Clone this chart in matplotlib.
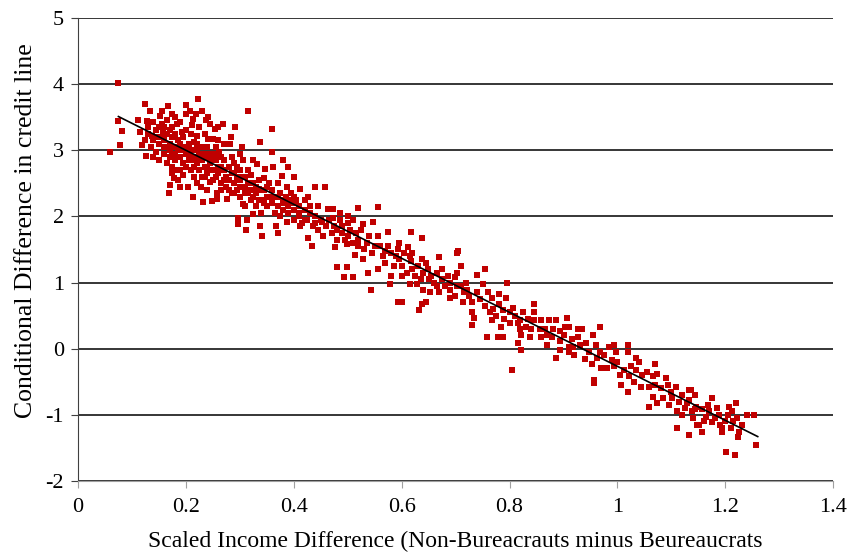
import matplotlib.pyplot as plt
import numpy as np

plt.rcParams['font.family'] = ['Liberation Serif', 'DejaVu Serif']
plt.rcParams['axes.unicode_minus'] = False

# scatter points, grouped by x band
income_diff = [
	# 0.05 - 0.12
	0.059, 0.075, 0.074, 0.081, 0.078, 0.115, 0.118, 0.124, 0.128, 0.127, 0.112,
	# 0.12 - 0.20
	0.133, 0.167, 0.201, 0.174, 0.152, 0.137, 0.158, 0.183, 0.193, 0.174, 0.170, 0.169, 0.204, 0.207,
	0.13, 0.135, 0.14, 0.14, 0.145, 0.145, 0.15, 0.15, 0.155, 0.155, 0.16, 0.16, 0.16, 0.165, 0.165,
	0.165, 0.17, 0.17, 0.17, 0.175, 0.175, 0.175, 0.18, 0.18, 0.18, 0.18, 0.185, 0.185, 0.185, 0.19,
	0.19, 0.19, 0.19, 0.195, 0.195, 0.195, 0.20, 0.20, 0.20, 0.20, 0.20, 0.14, 0.125, 0.13, 0.155,
	0.19, 0.178,
	# 0.20 - 0.27
	0.222, 0.213, 0.241, 0.220, 0.241, 0.254, 0.213, 0.232, 0.248, 0.257, 0.269, 0.259, 0.250, 0.257, 0.244,
	0.205, 0.205, 0.21, 0.21, 0.21, 0.215, 0.215, 0.215, 0.22, 0.22, 0.22, 0.225, 0.225, 0.225, 0.23,
	0.23, 0.23, 0.23, 0.235, 0.235, 0.235, 0.24, 0.24, 0.24, 0.24, 0.245, 0.245, 0.25, 0.25, 0.25,
	0.255, 0.255, 0.26, 0.26, 0.26, 0.265, 0.265, 0.265, 0.27, 0.27, 0.27, 0.212, 0.228, 0.218, 0.262,
	0.238,
	# 0.27 - 0.35
	0.315, 0.291, 0.281, 0.304, 0.276, 0.306, 0.324, 0.296, 0.296, 0.313, 0.337, 0.341, 0.337, 0.331, 0.346,
	0.275, 0.275, 0.28, 0.28, 0.285, 0.285, 0.29, 0.29, 0.29, 0.295, 0.295, 0.30, 0.30, 0.30, 0.305,
	0.305, 0.31, 0.31, 0.31, 0.315, 0.315, 0.32, 0.32, 0.32, 0.325, 0.325, 0.33, 0.33, 0.335, 0.335,
	0.34, 0.34, 0.345, 0.345, 0.35, 0.35, 0.283, 0.30, 0.312,
	# 0.35 - 0.45
	0.359, 0.359, 0.378, 0.361, 0.387, 0.411, 0.439, 0.426, 0.368, 0.387, 0.411, 0.433, 0.426,
	0.355, 0.36, 0.36, 0.365, 0.365, 0.37, 0.37, 0.375, 0.375, 0.38, 0.38, 0.385, 0.39, 0.39, 0.395,
	0.40, 0.40, 0.40, 0.405, 0.41, 0.41, 0.415, 0.42, 0.42, 0.425, 0.43, 0.435, 0.44, 0.445, 0.445,
	0.45, 0.37, 0.39, 0.40, 0.38,
	# 0.45 - 0.55
	0.457, 0.463, 0.472, 0.481, 0.452, 0.519, 0.472, 0.546, 0.528, 0.476, 0.498, 0.513, 0.528, 0.480, 0.498,
	0.494, 0.509, 0.537, 0.544,
	0.455, 0.46, 0.465, 0.47, 0.475, 0.48, 0.485, 0.49, 0.49, 0.495, 0.50, 0.50, 0.505, 0.51, 0.515,
	0.52, 0.52, 0.525, 0.53, 0.535, 0.54, 0.545, 0.55, 0.50, 0.485, 0.51,
	# 0.55 - 0.65
	0.556, 0.556, 0.574, 0.618, 0.637, 0.556, 0.578, 0.569, 0.593, 0.611, 0.596, 0.618, 0.637, 0.648, 0.615,
	0.628, 0.639, 0.593, 0.600, 0.637, 0.633, 0.646,
	0.56, 0.565, 0.57, 0.575, 0.58, 0.585, 0.59, 0.595, 0.60, 0.605, 0.61, 0.615, 0.62, 0.625, 0.63,
	0.635, 0.64, 0.645, 0.65, 0.58, 0.60, 0.62,
	# 0.65 - 0.75
	0.670, 0.704, 0.674, 0.652, 0.665, 0.670, 0.689, 0.702, 0.698, 0.702, 0.702, 0.739, 0.754, 0.750, 0.722,
	0.689, 0.698, 0.713, 0.731, 0.730, 0.735, 0.730,
	0.655, 0.66, 0.665, 0.675, 0.68, 0.685, 0.69, 0.71, 0.715, 0.72, 0.725, 0.74, 0.745, 0.71,
	# 0.75 - 0.85
	0.796, 0.767, 0.781, 0.794, 0.763, 0.767, 0.787, 0.785, 0.806, 0.819, 0.815, 0.759, 0.778, 0.787, 0.819,
	0.831, 0.822, 0.815, 0.822, 0.804, 0.846, 0.846, 0.846,
	0.755, 0.76, 0.77, 0.775, 0.78, 0.79, 0.80, 0.81, 0.825, 0.835, 0.84, 0.80,
	# 0.85 - 0.95
	0.859, 0.874, 0.887, 0.906, 0.902, 0.893, 0.856, 0.837, 0.859, 0.878, 0.893, 0.911, 0.893, 0.887, 0.926,
	0.926, 0.911, 0.935, 0.942, 0.917, 0.911, 0.948,
	0.865, 0.87, 0.88, 0.90, 0.915, 0.92, 0.93, 0.94, 0.87,
	# 0.95 - 1.05
	0.967, 0.954, 0.967, 0.963, 0.952, 0.957, 0.957, 0.985, 0.994, 0.998, 1.019, 1.019, 1.035, 0.989, 0.994,
	1.013, 1.022, 1.007, 1.019, 1.026, 1.035, 1.044,
	0.975, 0.98, 1.00, 1.005, 1.03, 1.04, 1.045, 0.96, 0.97,
	# 1.05 - 1.15
	1.054, 1.059, 1.065, 1.069, 1.074, 1.059, 1.074, 1.065, 1.093, 1.109, 1.100, 1.120, 1.102, 1.133, 1.143,
	1.128, 1.143, 1.111, 1.111, 1.148, 1.137, 1.146, 1.133, 1.139, 1.133,
	1.08, 1.085, 1.09, 1.095, 1.115, 1.12, 1.125, 1.14, 1.07,
	# 1.15 - 1.26
	1.176, 1.167, 1.157, 1.220, 1.207, 1.213, 1.189, 1.164, 1.176, 1.152, 1.156, 1.194, 1.194, 1.211, 1.222,
	1.226, 1.224, 1.230, 1.241, 1.254, 1.257, 1.202, 1.217,
	1.17, 1.18, 1.185, 1.20, 1.205, 1.215, 1.16, 1.19,
	# extra points in the dense core
	0.145, 0.15, 0.16, 0.165, 0.17, 0.175, 0.18, 0.185, 0.19, 0.195, 0.205, 0.21, 0.215, 0.22, 0.225,
	0.23, 0.235, 0.24, 0.245, 0.25, 0.255, 0.26, 0.265, 0.27,
	0.28, 0.285, 0.29, 0.295, 0.30, 0.305, 0.31, 0.315, 0.32, 0.325, 0.33, 0.335, 0.34, 0.345, 0.35,
	0.36, 0.37, 0.38, 0.39, 0.40, 0.41, 0.42, 0.43, 0.44,
]
credit_diff = [
	2.97, 4.01, 3.44, 3.29, 3.08, 3.27, 3.08, 3.70, 3.44, 2.91, 3.45,
	3.59, 3.67, 3.68, 3.55, 3.52, 3.21, 3.29, 3.39, 3.27, 2.74, 2.48, 2.36, 2.44, 3.59,
	3.35, 3.05, 3.15, 3.42, 2.98, 3.30, 3.10, 2.85, 3.20, 3.40, 3.05, 2.95, 3.15, 2.80, 3.25,
	3.45, 3.00, 3.10, 2.90, 3.20, 2.65, 3.35, 3.05, 2.85, 2.95, 3.50, 3.15, 2.70, 2.55, 3.00,
	2.90, 3.10, 3.42, 2.80, 2.62, 3.20, 3.05, 2.95, 2.75, 3.30, 3.55, 2.90, 3.15, 3.25, 3.60,
	2.45, 2.58,
	3.77, 3.47, 3.50, 3.21, 3.17, 3.32, 2.29, 2.21, 2.23, 2.36, 3.39, 3.35, 3.17, 2.26, 2.52,
	3.10, 2.85, 3.00, 2.70, 3.25, 2.90, 3.12, 2.60, 2.80, 3.00, 2.50, 2.95, 3.35, 2.70, 2.85,
	3.05, 2.60, 3.60, 2.75, 2.95, 3.25, 2.90, 2.65, 3.05, 2.40, 2.80, 3.40, 2.70, 2.95, 2.55,
	2.85, 3.05, 2.65, 2.75, 3.15, 2.90, 2.50, 2.40, 2.70, 2.85, 3.10, 3.38, 2.45, 3.55, 2.98,
	3.45,
	3.59, 3.35, 3.09, 3.05, 2.26, 2.18, 2.03, 1.98, 1.88, 1.95, 1.85, 1.70, 3.12, 2.79, 2.71,
	2.60, 2.45, 2.75, 2.55, 2.90, 2.35, 2.65, 2.50, 2.80, 2.40, 2.60, 2.70, 2.30, 2.55, 2.85,
	2.45, 2.60, 2.35, 2.15, 2.70, 2.50, 2.40, 2.25, 2.62, 2.85, 2.50, 2.35, 2.15, 2.55, 2.42,
	2.25, 2.05, 2.40, 2.58, 2.30, 2.15, 3.20, 2.95, 1.80,
	3.32, 2.98, 2.61, 2.74, 2.45, 2.41, 2.45, 2.29, 1.85, 1.92, 1.85, 1.55, 1.68,
	2.50, 2.20, 2.40, 2.05, 2.30, 2.50, 2.15, 2.35, 2.00, 2.25, 2.10, 2.30, 2.15, 2.05, 2.35,
	2.20, 1.95, 2.10, 2.25, 2.00, 2.15, 1.90, 2.10, 2.25, 1.95, 2.05, 1.85, 2.00, 2.15, 1.80,
	1.95, 1.75, 2.75, 2.60, 2.85,
	2.45, 2.11, 1.98, 1.80, 1.91, 2.12, 2.11, 1.91, 1.88, 1.53, 1.58, 1.41, 1.35, 1.24, 1.23,
	1.08, 1.09, 1.15, 0.89,
	1.70, 1.85, 1.95, 1.75, 1.85, 1.65, 1.95, 1.75, 1.85, 1.65, 1.90, 1.70, 1.80, 1.60, 1.75,
	1.55, 1.65, 1.80, 1.50, 1.60, 1.70, 1.45, 1.55, 2.00, 2.05, 1.95,
	2.14, 1.70, 1.76, 1.76, 1.68, 1.20, 0.97, 1.47, 1.50, 1.53, 1.35, 1.32, 1.35, 1.20, 0.97,
	0.97, 0.89, 0.70, 0.71, 0.67, 0.59, 0.70,
	1.55, 1.40, 1.30, 1.55, 1.45, 1.25, 1.40, 1.60, 1.25, 1.45, 1.15, 1.40, 1.20, 1.10, 1.25,
	1.05, 1.15, 1.30, 1.05, 1.10, 1.10, 1.45,
	1.39, 1.47, 1.20, 0.85, 0.94, 0.85, 0.77, 0.94, 1.08, 1.45, 1.15, 1.12, 1.20, 0.97, 0.89,
	1.00, 0.79, 0.71, 0.70, 0.56, 0.47, 0.36,
	1.10, 1.00, 1.15, 1.05, 0.95, 1.10, 0.88, 0.95, 0.85, 1.00, 0.80, 0.85, 0.75, 1.25,
	1.00, 0.77, 0.82, 0.77, 0.56, 0.44, 0.59, 0.33, 0.62, 0.44, 0.39, 0.18, 0.18, 0.17, 0.29,
	0.32, 0.21, 0.09, -0.02, -0.32, 0.67, 0.55, 0.44,
	0.65, 0.85, 0.60, 0.50, 0.68, 0.45, 0.55, 0.50, 0.55, 0.45, 0.30, 0.38,
	0.44, 0.44, 0.44, 0.47, 0.33, 0.26, 0.29, 0.18, 0.17, 0.18, 0.11, 0.02, -0.02, -0.14, 0.17,
	0.29, 0.32, 0.29, 0.09, 0.03, -0.05, -0.05,
	0.30, 0.20, 0.30, 0.20, 0.15, -0.10, 0.05, -0.15, 0.05,
	0.32, 0.20, -0.05, -0.14, -0.24, -0.47, -0.52, 0.02, 0.06, -0.05, 0.06, -0.05, -0.14, -0.17, -0.27,
	-0.32, -0.42, -0.55, -0.65, -0.27, -0.32, -0.58,
	-0.10, -0.30, -0.20, -0.40, -0.50, -0.20, -0.40, 0.05, -0.30,
	-0.36, -0.58, -0.42, -0.24, -0.39, -0.89, -0.82, -0.73, -0.55, -0.58, -0.65, -0.70, -0.74, -0.62, -0.70,
	-0.82, -0.92, -0.95, -1.20, -1.15, -0.62, -0.88, -0.77, -0.95, -1.30,
	-0.60, -0.75, -0.45, -0.85, -0.80, -1.00, -0.90, -1.05, -0.55,
	-0.74, -0.85, -0.92, -0.82, -0.88, -0.95, -1.00, -1.03, -1.11, -1.15, -1.26, -1.20, -1.26, -1.20, -1.05,
	-1.26, -1.33, -1.15, -1.00, -1.00, -1.45, -1.56, -1.61,
	-0.95, -1.05, -0.90, -1.10, -1.00, -1.10, -1.10, -1.15,
	3.20, 3.35, 3.35, 3.05, 3.30, 2.95, 3.25, 3.00, 2.70, 3.00, 2.95, 2.85, 2.75, 3.10, 2.85,
	2.95, 2.60, 2.75, 2.95, 2.85, 2.60, 2.90, 2.75, 2.55,
	2.40, 2.65, 2.35, 2.75, 2.45, 2.60, 2.45, 2.35, 2.50, 2.30, 2.45, 2.25, 2.40, 2.20, 2.45,
	2.30, 2.30, 2.20, 2.25, 2.30, 2.05, 1.95, 2.15, 1.90,
]

# fitted line end points
trend_x = [0.075, 1.26]
trend_y = [3.51, -1.33]

fig, ax = plt.subplots(figsize=(8.52, 5.54), dpi=100)
fig.subplots_adjust(left=0.0915, right=0.978, top=0.9675, bottom=0.132)

ax.set_axisbelow(True)
ax.yaxis.grid(True, color='black', linewidth=1.1)
ax.scatter(income_diff, credit_diff, marker='s', s=23, color='#C00000', linewidths=0, zorder=2)
ax.plot(trend_x, trend_y, color='black', linewidth=1.2, zorder=3)

ax.set_xlim(0, 1.4)
ax.set_ylim(-2, 5)
ax.set_xticks(np.arange(0, 1.41, 0.2))
ax.set_xticklabels(['0', '0.2', '0.4', '0.6', '0.8', '1', '1.2', '1.4'])
ax.set_yticks(range(-2, 6))

for s in ['top', 'right']:
	ax.spines[s].set_visible(False)
ax.spines['left'].set_color('#404040')
ax.spines['bottom'].set_color('#a0a0a0')
ax.tick_params(axis='y', length=5, color='#404040', labelsize=16, pad=5)
ax.tick_params(axis='x', length=5, color='#a0a0a0', labelsize=16, pad=7)

ax.set_xlabel('Scaled Income Difference (Non-Bureacrauts minus Beureaucrats', fontsize=17, labelpad=10)
ax.set_ylabel('Conditional Difference in credit line', fontsize=18.5, labelpad=6)
ax.yaxis.label.set_y(0.54)

fig.savefig('out.png')
